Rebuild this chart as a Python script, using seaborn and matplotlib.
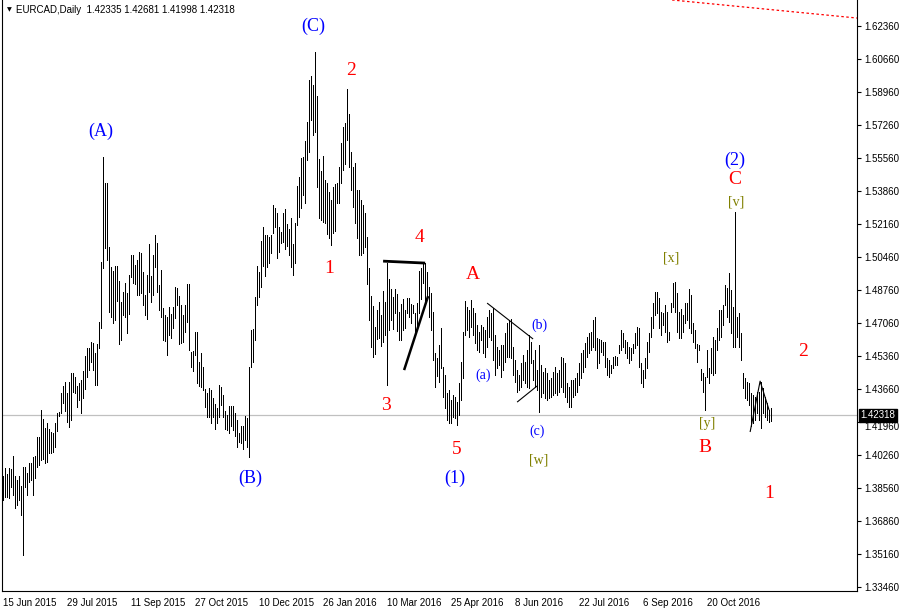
import numpy as np
import pandas as pd
import matplotlib
matplotlib.use("Agg")
import matplotlib.pyplot as plt
import matplotlib.transforms as mtransforms
import seaborn as sns

# ---------------- data ----------------
symbol = "EURCAD,Daily"
last_ohlc = [1.42335, 1.42681, 1.41998, 1.42318]
last_close = 1.42318

highs = [
    1.3919, 1.3960, 1.3929, 1.3960, 1.3955, 1.4022, 1.3919, 1.3898, 1.3919, 1.3867,
    1.3965, 1.3965, 1.3934, 1.3986, 1.3986, 1.4017, 1.4022, 1.4119, 1.4119, 1.4258,
    1.4212, 1.4165, 1.4191, 1.4160, 1.4145, 1.4140, 1.4191, 1.4243, 1.4248, 1.4346,
    1.4382, 1.4400, 1.4346, 1.4400,
    1.4449, 1.4449, 1.4428, 1.4382, 1.4397, 1.4413, 1.4459, 1.4536, 1.4577, 1.4577,
    1.4608, 1.4603, 1.4552, 1.4598, 1.4711, 1.5020, 1.5561, 1.5427, 1.5427, 1.5098,
    1.4995, 1.4974, 1.5000, 1.5000, 1.4923, 1.4815, 1.4866, 1.4912, 1.4861, 1.4954,
    1.5057, 1.5057, 1.5005, 1.5031, 1.5072, 1.5067,
    1.4969, 1.4851, 1.4954, 1.5113, 1.4948, 1.5057, 1.5160, 1.5118, 1.4902, 1.4979,
    1.4784, 1.4748, 1.4737, 1.4789, 1.4753, 1.4789, 1.4892, 1.4887, 1.4846, 1.4799,
    1.4748, 1.4799, 1.4907, 1.4907, 1.4557, 1.4562, 1.4660, 1.4660, 1.4505, 1.4552,
    1.4480, 1.4366, 1.4346, 1.4372, 1.4361,
    1.4320, 1.4289, 1.4268, 1.4387, 1.4377, 1.4336, 1.4253, 1.4232, 1.4279, 1.4279,
    1.4279, 1.4243, 1.4207, 1.4140, 1.4176, 1.4176, 1.4227, 1.4217, 1.4480, 1.4670,
    1.4675, 1.4840, 1.5000, 1.4969, 1.5129, 1.5201, 1.5160, 1.5160, 1.5149, 1.5160,
    1.5314, 1.5298, 1.5273, 1.5201, 1.5175,
    1.5273, 1.5293, 1.5216, 1.5190, 1.5247, 1.5113, 1.5221, 1.5412, 1.5458, 1.5556,
    1.5561, 1.5643, 1.5741, 1.5958, 1.5978, 1.5932, 1.6102, 1.5875, 1.5551, 1.5489,
    1.5566, 1.5443, 1.5427, 1.5381, 1.5340, 1.5407, 1.5422, 1.5427, 1.5510, 1.5633,
    1.5716, 1.5736, 1.5912, 1.5783, 1.5587,
    1.5510, 1.5530, 1.5391, 1.5391, 1.5340, 1.5314, 1.5273, 1.5149, 1.4989, 1.4845,
    1.4794, 1.4686, 1.4773, 1.4815, 1.4748, 1.4871, 1.4815, 1.5015, 1.4933, 1.4881,
    1.4840, 1.4881, 1.4856, 1.4763, 1.4804, 1.4830, 1.4773, 1.4835, 1.4835, 1.4804,
    1.4799, 1.4758, 1.4809, 1.4974, 1.4990,
    1.5020, 1.5015, 1.4969, 1.4892, 1.4861, 1.4763, 1.4552, 1.4526, 1.4593, 1.4680,
    1.4480, 1.4439, 1.4346, 1.4361, 1.4310, 1.4336, 1.4325, 1.4300, 1.4397, 1.4505,
    1.4660, 1.4820, 1.4789, 1.4773, 1.4825, 1.4784, 1.4758, 1.4696, 1.4660, 1.4696,
    1.4686, 1.4670, 1.4737, 1.4773, 1.4760,
    1.4784, 1.4645, 1.4583, 1.4567, 1.4593, 1.4593, 1.4655, 1.4706, 1.4722, 1.4727,
    1.4583, 1.4516, 1.4464, 1.4438, 1.4500, 1.4541, 1.4505, 1.4567, 1.4645, 1.4608,
    1.4516, 1.4567, 1.4464, 1.4593, 1.4490, 1.4454, 1.4475, 1.4449, 1.4413, 1.4423,
    1.4454, 1.4480, 1.4449, 1.4464, 1.4531,
    1.4526, 1.4500, 1.4397, 1.4377, 1.4413, 1.4413, 1.4423, 1.4449, 1.4500, 1.4552,
    1.4567, 1.4603, 1.4634, 1.4655, 1.4660, 1.4722, 1.4737, 1.4629, 1.4624, 1.4619,
    1.4608, 1.4608, 1.4526, 1.4516, 1.4490, 1.4531, 1.4536, 1.4531, 1.4593, 1.4670,
    1.4655, 1.4619, 1.4608, 1.4583, 1.4577,
    1.4598, 1.4655, 1.4686, 1.4680, 1.4500, 1.4464, 1.4526, 1.4608, 1.4655, 1.4737,
    1.4809, 1.4866, 1.4866, 1.4835, 1.4763, 1.4758, 1.4799, 1.4763, 1.4660, 1.4809,
    1.4912, 1.4917, 1.4861, 1.4763, 1.4779, 1.4748, 1.4809, 1.4809, 1.4881, 1.4851,
    1.4706, 1.4670, 1.4598, 1.4593, 1.4469,
    1.4449, 1.4428, 1.4567, 1.4475, 1.4577, 1.4634, 1.4619, 1.4680, 1.4773, 1.4773,
    1.4799, 1.4902, 1.4887, 1.4964, 1.4876, 1.4789, 1.5278, 1.4737, 1.4758, 1.4655,
    1.4449, 1.4423, 1.4402, 1.4397, 1.4346, 1.4336, 1.4325, 1.4351, 1.4351, 1.4402,
    1.4372, 1.4325, 1.4294, 1.4258, 1.42681,
]

lows = [
    1.3795, 1.3810, 1.3810, 1.3805, 1.3862, 1.3821, 1.3754, 1.3769, 1.3795, 1.3718,
    1.3512, 1.3862, 1.3821, 1.3888, 1.3898, 1.3821, 1.3908, 1.3965, 1.3975, 1.4001,
    1.4006, 1.3986, 1.3991, 1.4037, 1.4037, 1.4042, 1.4068, 1.4150, 1.4227, 1.4243,
    1.4294, 1.4253, 1.4196, 1.4170,
    1.4207, 1.4351, 1.4346, 1.4274, 1.4310, 1.4243, 1.4320, 1.4366, 1.4428, 1.4464,
    1.4505, 1.4464, 1.4387, 1.4387, 1.4577, 1.4680, 1.4989, 1.5093, 1.5031, 1.4763,
    1.4737, 1.4706, 1.4722, 1.4820, 1.4598, 1.4619, 1.4748, 1.4737, 1.4655, 1.4753,
    1.4943, 1.4912, 1.4907, 1.4851, 1.4851, 1.4861,
    1.4799, 1.4748, 1.4727, 1.4866, 1.4815, 1.4851, 1.4995, 1.4866, 1.4773, 1.4737,
    1.4619, 1.4614, 1.4541, 1.4645, 1.4629, 1.4680, 1.4732, 1.4799, 1.4598, 1.4603,
    1.4608, 1.4660, 1.4711, 1.4567, 1.4480, 1.4459, 1.4541, 1.4397, 1.4382, 1.4377,
    1.4361, 1.4274, 1.4222, 1.4222, 1.4191,
    1.4222, 1.4160, 1.4191, 1.4222, 1.4284, 1.4222, 1.4160, 1.4155, 1.4140, 1.4176,
    1.4155, 1.4124, 1.4068, 1.4093, 1.4088, 1.4057, 1.4104, 1.4068, 1.4017, 1.4480,
    1.4505, 1.4619, 1.4799, 1.4840, 1.4892, 1.5000, 1.4948, 1.4995, 1.5015, 1.5067,
    1.5170, 1.5201, 1.5041, 1.5072, 1.5118,
    1.5124, 1.5087, 1.5103, 1.5057, 1.4995, 1.4954, 1.5015, 1.5211, 1.5252, 1.5298,
    1.5365, 1.5324, 1.5546, 1.5587, 1.5752, 1.5675, 1.5690, 1.5407, 1.5247, 1.5237,
    1.5227, 1.5221, 1.5165, 1.5144, 1.5108, 1.5170, 1.5180, 1.5324, 1.5324, 1.5427,
    1.5494, 1.5525, 1.5649, 1.5510, 1.5391,
    1.5304, 1.5221, 1.5144, 1.5057, 1.5057, 1.5067, 1.5098, 1.4907, 1.4722, 1.4583,
    1.4531, 1.4547, 1.4624, 1.4629, 1.4588, 1.4608, 1.4645, 1.4387, 1.4670, 1.4722,
    1.4675, 1.4758, 1.4665, 1.4619, 1.4619, 1.4670, 1.4680, 1.4758, 1.4737, 1.4706,
    1.4758, 1.4655, 1.4670, 1.4758, 1.4830,
    1.4912, 1.4809, 1.4840, 1.4737, 1.4670, 1.4516, 1.4377, 1.4433, 1.4402, 1.4475,
    1.4325, 1.4268, 1.4207, 1.4191, 1.4191, 1.4222, 1.4217, 1.4181, 1.4232, 1.4310,
    1.4423, 1.4645, 1.4670, 1.4634, 1.4686, 1.4645, 1.4603, 1.4567, 1.4557, 1.4619,
    1.4552, 1.4531, 1.4583, 1.4634, 1.4620,
    1.4516, 1.4438, 1.4475, 1.4490, 1.4428, 1.4464, 1.4505, 1.4531, 1.4531, 1.4526,
    1.4438, 1.4402, 1.4351, 1.4361, 1.4377, 1.4413, 1.4397, 1.4377, 1.4372, 1.4500,
    1.4413, 1.4377, 1.4361, 1.4248, 1.4325, 1.4346, 1.4320, 1.4310, 1.4320, 1.4325,
    1.4336, 1.4346, 1.4336, 1.4351, 1.4377,
    1.4351, 1.4325, 1.4300, 1.4274, 1.4274, 1.4325, 1.4336, 1.4351, 1.4387, 1.4423,
    1.4454, 1.4480, 1.4531, 1.4552, 1.4567, 1.4583, 1.4567, 1.4475, 1.4500, 1.4557,
    1.4541, 1.4480, 1.4438, 1.4428, 1.4449, 1.4475, 1.4490, 1.4490, 1.4552, 1.4567,
    1.4583, 1.4552, 1.4526, 1.4500, 1.4516,
    1.4552, 1.4577, 1.4593, 1.4480, 1.4397, 1.4377, 1.4423, 1.4475, 1.4557, 1.4634,
    1.4680, 1.4748, 1.4758, 1.4680, 1.4645, 1.4696, 1.4660, 1.4608, 1.4619, 1.4763,
    1.4789, 1.4763, 1.4660, 1.4629, 1.4629, 1.4660, 1.4706, 1.4722, 1.4680, 1.4655,
    1.4608, 1.4577, 1.4505, 1.4567, 1.4413,
    1.4351, 1.4258, 1.4428, 1.4397, 1.4449, 1.4438, 1.4449, 1.4567, 1.4619, 1.4634,
    1.4696, 1.4799, 1.4737, 1.4711, 1.4655, 1.4583, 1.4583, 1.4634, 1.4583, 1.4516,
    1.4372, 1.4320, 1.4310, 1.4284, 1.4176, 1.4191, 1.4207, 1.4243, 1.4207, 1.4165,
    1.4243, 1.4222, 1.4207, 1.4196, 1.41998,
]

date_labels = ["15 Jun 2015", "29 Jul 2015", "11 Sep 2015", "27 Oct 2015",
               "10 Dec 2015", "26 Jan 2016", "10 Mar 2016", "25 Apr 2016",
               "8 Jun 2016", "22 Jul 2016", "6 Sep 2016", "20 Oct 2016"]
date_label_bars = [0, 32, 64, 96, 128, 160, 192, 224, 256, 288, 320, 352]

price_ticks = [1.33460, 1.35160, 1.36860, 1.38560, 1.40260, 1.41960, 1.43660,
               1.45360, 1.47060, 1.48760, 1.50460, 1.52160, 1.53860, 1.55560,
               1.57260, 1.58960, 1.60660, 1.62360]

# wave labels: (text, bar position, price, colour, size)
wave_labels = [
    ("(A)", 48.9, 1.5695, "#0000ff", 13), ("(B)", 123.4, 1.3908, "#0000ff", 13),
    ("(C)", 154.9, 1.6236, "#0000ff", 13), ("(1)", 225.9, 1.3908, "#0000ff", 13),
    ("(2)", 365.9, 1.5546, "#0000ff", 13),
    ("(a)", 239.9, 1.4438, "#0000ff", 10), ("(b)", 267.9, 1.4696, "#0000ff", 10),
    ("(c)", 266.9, 1.4150, "#0000ff", 10),
    ("2", 173.9, 1.6009, "#ff0000", 14), ("1", 162.9, 1.4989, "#ff0000", 14),
    ("3", 191.4, 1.4279, "#ff0000", 14), ("4", 207.9, 1.5149, "#ff0000", 14),
    ("5", 226.9, 1.4057, "#ff0000", 14), ("A", 234.9, 1.4954, "#ff0000", 14),
    ("B", 350.9, 1.4067, "#ff0000", 14), ("C", 365.9, 1.5443, "#ff0000", 14),
    ("2", 399.9, 1.4562, "#ff0000", 14), ("1", 382.9, 1.3830, "#ff0000", 14),
    ("[x]", 333.9, 1.5041, "#808000", 10), ("[v]", 366.4, 1.5329, "#808000", 10),
    ("[y]", 351.9, 1.4191, "#808000", 10), ("[w]", 267.9, 1.4000, "#808000", 10),
]

# drawn trend lines: (bar list, price list, width, colour, style)
trend_lines = [
    ([189.9, 210.9], [1.5025, 1.5015], 2.0, "black", "-"),
    ([200.4, 212.4], [1.4464, 1.4845], 1.8, "black", "-"),
    ([241.9, 264.9], [1.4809, 1.4624], 0.8, "black", "-"),
    ([256.9, 266.9], [1.4299, 1.4382], 0.8, "black", "-"),
    ([373.4, 378.4, 382.9], [1.4145, 1.4407, 1.4258], 0.8, "black", "-"),
    ([334.4, 426.9], [1.6370, 1.6277], 0.9, "#ff0000", (0, (2, 2))),
]

# ---------------- plot ----------------
sns.set_theme(style="white")
plt.rcParams["font.family"] = ["Liberation Sans", "DejaVu Sans"]

df = pd.DataFrame({"bar": np.arange(len(highs)), "high": highs, "low": lows})

fig = plt.figure(figsize=(9, 6.11), dpi=100)
ax = fig.add_axes([2 / 900, 1 - 591 / 611, 855 / 900, 591 / 611])
ax.set_facecolor("white")

ax.axhline(last_close, color="#c0c0c0", lw=0.9, zorder=1)
ax.vlines(df["bar"], df["low"], df["high"], color="black", linewidth=0.68,
          antialiased=False, zorder=2)

for xs, ys, lw, col, ls in trend_lines:
    ax.plot(xs, ys, color=col, lw=lw, ls=ls, zorder=3, solid_capstyle="butt")

for txt, bx, py, col, fs in wave_labels:
    ax.text(bx, py, txt, color=col, fontsize=fs, ha="center", va="center",
            family=["Liberation Serif", "DejaVu Serif"], zorder=4)

ax.set_xlim(-0.65, 426.85)
ax.set_ylim(1.33262, 1.63699)

ax.set_xticks(date_label_bars)
ax.set_xticklabels(date_labels, ha="left", fontsize=7)
ax.set_yticks(price_ticks)
ax.set_yticklabels([f"{p:.5f}" for p in price_ticks], fontsize=7)
ax.yaxis.tick_right()
ax.tick_params(axis="both", direction="out", length=3, width=0.8,
               color="black", labelcolor="black")
ax.tick_params(axis="x", pad=2)
ax.tick_params(axis="y", pad=2)
ax.grid(False)

# the tick label just under the current-price tag sits a little lower
for lab in ax.get_yticklabels():
    if lab.get_text() == "1.41960":
        lab.set_transform(lab.get_transform() +
                          mtransforms.ScaledTranslation(0, -4 / 100, fig.dpi_scale_trans))

for side in ["left", "bottom", "right"]:
    ax.spines[side].set_visible(True)
    ax.spines[side].set_color("black")
    ax.spines[side].set_linewidth(0.8)
ax.spines["top"].set_visible(False)

# current price tag
ax.text(1.004, last_close, f"{last_close:.5f}", transform=ax.get_yaxis_transform(),
        ha="left", va="center", fontsize=7, color="white", zorder=6, clip_on=False,
        bbox=dict(boxstyle="square,pad=0.15", facecolor="black", edgecolor="black"))

# header
header = f"{symbol}  " + " ".join(f"{v:.5f}" for v in last_ohlc)
fig.text(7 / 900, 1 - 10 / 611, "\u25BC", fontsize=4.5, color="black",
         ha="left", va="center", family="DejaVu Sans")
fig.text(16 / 900, 1 - 10 / 611, header, fontsize=7, color="black",
         ha="left", va="center")

fig.savefig("out.png", dpi=100)
